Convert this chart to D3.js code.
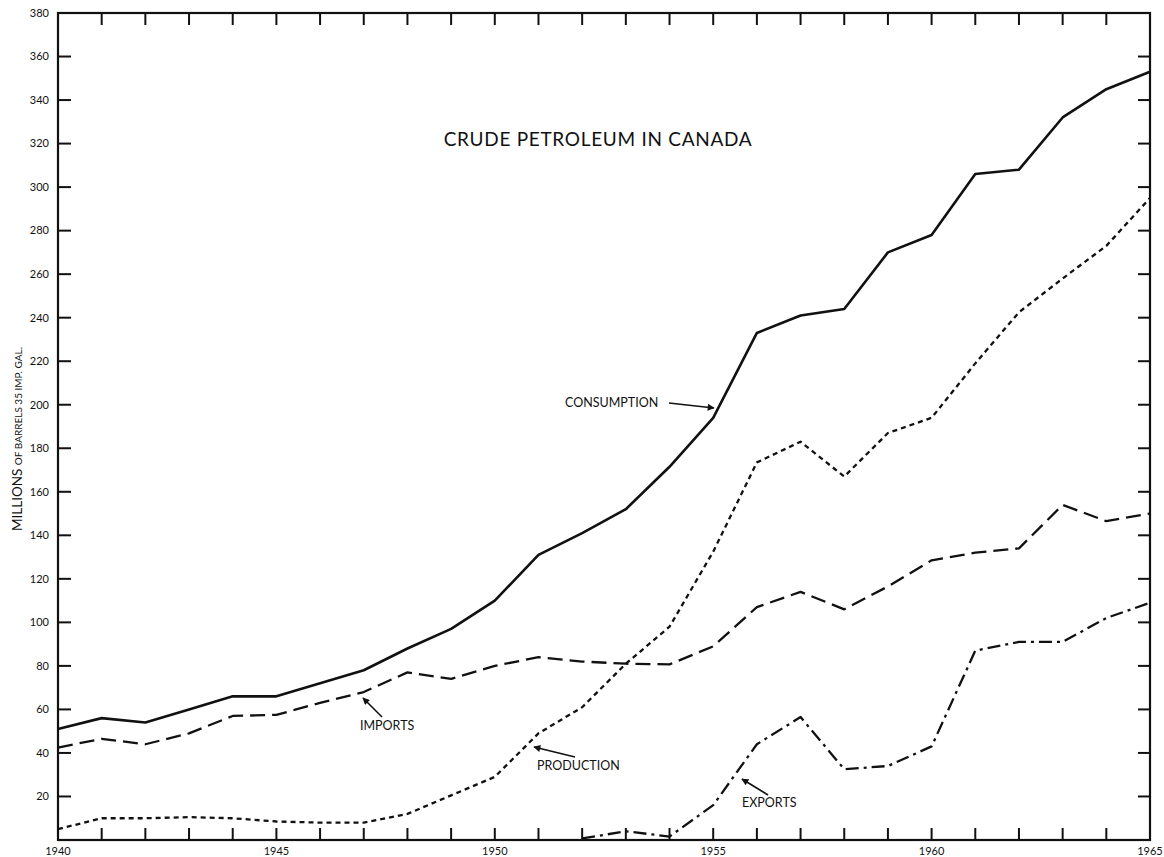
<!DOCTYPE html>
<html>
<head>
<meta charset="utf-8">
<script src="https://cdn.jsdelivr.net/npm/d3@7"></script>
<style>
  html, body { margin: 0; padding: 0; background: #fff; }
  svg { display: block; }
  text { font-family: Lato, "Open Sans", sans-serif; fill: #111; }
</style>
</head>
<body>
<svg id="chart" width="1164" height="857"></svg>
<script>
// Crude petroleum in Canada, millions of barrels (35 imp. gal.)
const years = d3.range(1940, 1966);
const consumption = [51, 56, 54, 60, 66, 66, 72, 78, 88, 97, 110, 131, 141, 152, 171.5, 194,
                     233, 241, 244, 270, 278, 306, 308, 332, 345, 353];
const production  = [5, 10, 10, 10.5, 10, 8.5, 8, 8, 12, 20.5, 29, 49, 61, 81, 98, 132.5,
                     173.5, 183, 167, 187, 194, 219, 242.5, 258, 273, 295];
const imports     = [42.5, 46.5, 44, 49, 57, 57.5, 63, 68, 77, 74, 80, 84, 82, 81, 80.7, 89,
                     107, 114, 106, 116.5, 128.5, 132, 134, 154, 146.5, 150];
const exportYears = d3.range(1952, 1966);
const exports     = [0.7, 4, 1.6, 16, 44, 56.5, 32.5, 34, 43, 87, 91, 91, 102, 109];

const yTicks = d3.range(20, 381, 20);
const xLabelYears = [1940, 1945, 1950, 1955, 1960, 1965];

const svg = d3.select("#chart");
const plotL = 58, plotR = 1150, plotT = 13, plotB = 840;

const x = d3.scaleLinear().domain([1940, 1965]).range([plotL, plotR]);
const y = d3.scaleLinear().domain([0, 380]).range([plotB, plotT]);

// Frame
svg.append("rect")
  .attr("x", plotL).attr("y", plotT)
  .attr("width", plotR - plotL).attr("height", plotB - plotT)
  .attr("fill", "none").attr("stroke", "#111").attr("stroke-width", 2.2);

// Year ticks pointing inward from top and bottom
const tickLen = 12;
const yearTicks = d3.range(1941, 1965);
svg.append("g").attr("stroke", "#111").attr("stroke-width", 2)
  .selectAll("line").data(yearTicks).join("line")
  .attr("x1", d => x(d)).attr("x2", d => x(d))
  .attr("y1", plotB).attr("y2", plotB - tickLen);
svg.append("g").attr("stroke", "#111").attr("stroke-width", 2)
  .selectAll("line").data(yearTicks).join("line")
  .attr("x1", d => x(d)).attr("x2", d => x(d))
  .attr("y1", plotT).attr("y2", plotT + tickLen);

// Value ticks pointing inward from left and right
svg.append("g").attr("stroke", "#111").attr("stroke-width", 2)
  .selectAll("line").data(yTicks.filter(d => d < 380)).join("line")
  .attr("x1", plotL).attr("x2", plotL + 13)
  .attr("y1", d => y(d)).attr("y2", d => y(d));
svg.append("g").attr("stroke", "#111").attr("stroke-width", 2)
  .selectAll("line").data(yTicks.filter(d => d < 380)).join("line")
  .attr("x1", plotR).attr("x2", plotR - 12)
  .attr("y1", d => y(d)).attr("y2", d => y(d));

// Tick labels
svg.append("g").selectAll("text").data(yTicks).join("text")
  .attr("x", 49).attr("y", d => y(d)).attr("dy", "0.35em")
  .attr("text-anchor", "end").attr("font-size", 11).text(d => d);
svg.append("g").selectAll("text").data(xLabelYears).join("text")
  .attr("x", d => x(d)).attr("y", 855)
  .attr("text-anchor", "middle").attr("font-size", 11).text(d => d);

// Axis title
const yt = svg.append("text")
  .attr("transform", "translate(22,439) rotate(-90)")
  .attr("text-anchor", "middle");
yt.append("tspan").attr("font-size", 13.5).text("MILLIONS ");
yt.append("tspan").attr("font-size", 10).text("OF BARRELS 35 IMP. GAL.");

// Chart title
svg.append("text").attr("x", 598).attr("y", 146).attr("text-anchor", "middle")
  .attr("font-size", 19).attr("letter-spacing", 0.7).text("CRUDE PETROLEUM IN CANADA");

// Series lines
const line = d3.line().x(d => x(d[0])).y(d => y(d[1]));
const zipY = (ys, vals) => ys.map((yr, i) => [yr, vals[i]]);
const series = [
  { vals: zipY(years, consumption), dash: null, w: 2.6 },
  { vals: zipY(years, production), dash: "5,4", w: 2.3 },
  { vals: zipY(years, imports), dash: "15,7", w: 2.3 },
  { vals: zipY(exportYears, exports), dash: "13,5,3,5", w: 2.3 }
];
svg.append("g").selectAll("path").data(series).join("path")
  .attr("d", d => line(d.vals))
  .attr("fill", "none").attr("stroke", "#111")
  .attr("stroke-width", d => d.w)
  .attr("stroke-dasharray", d => d.dash)
  .attr("stroke-linejoin", "round");

// Labels with arrows
svg.append("defs").append("marker")
  .attr("id", "arrow").attr("viewBox", "0 0 10 10")
  .attr("refX", 9).attr("refY", 5)
  .attr("markerWidth", 9).attr("markerHeight", 7).attr("markerUnits", "userSpaceOnUse")
  .attr("orient", "auto")
  .append("path").attr("d", "M0,0L10,5L0,10Z").attr("fill", "#111");

const notes = [
  { text: "CONSUMPTION", tx: 565, ty: 403, x1: 669, y1: 403, x2: 714, y2: 408 },
  { text: "IMPORTS", tx: 360, ty: 726, x1: 382, y1: 717, x2: 363, y2: 698 },
  { text: "PRODUCTION", tx: 537, ty: 766, x1: 575, y1: 757, x2: 534, y2: 747 },
  { text: "EXPORTS", tx: 742, ty: 803, x1: 768, y1: 795, x2: 742, y2: 779 }
];
const ng = svg.append("g");
ng.selectAll("text").data(notes).join("text")
  .attr("x", d => d.tx).attr("y", d => d.ty).attr("dy", "0.35em")
  .attr("font-size", 12.5).text(d => d.text);
ng.selectAll("line").data(notes).join("line")
  .attr("x1", d => d.x1).attr("y1", d => d.y1)
  .attr("x2", d => d.x2).attr("y2", d => d.y2)
  .attr("stroke", "#111").attr("stroke-width", 1.6)
  .attr("marker-end", "url(#arrow)");
</script>
</body>
</html>
